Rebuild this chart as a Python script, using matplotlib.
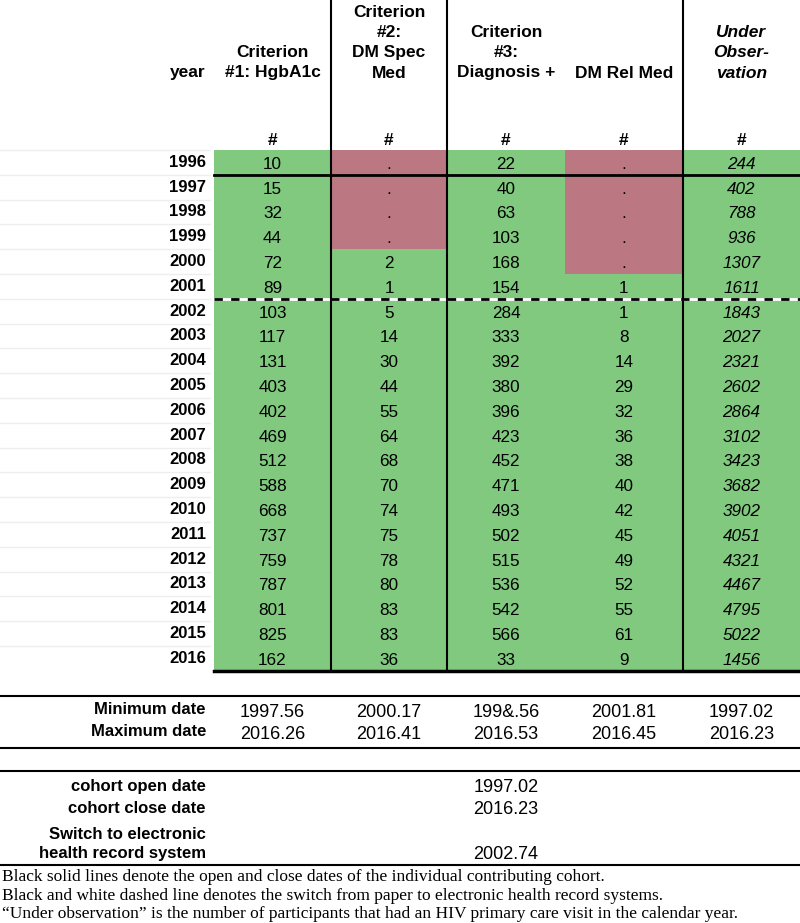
import matplotlib
matplotlib.use("Agg")
from matplotlib import pyplot as plt
from matplotlib.patches import Rectangle

years = list(range(1996, 2017))
crit1 = [10, 15, 32, 44, 72, 89, 103, 117, 131, 403, 402, 469, 512, 588, 668,
         737, 759, 787, 801, 825, 162]
crit2 = [None, None, None, None, 2, 1, 5, 14, 30, 44, 55, 64, 68, 70, 74,
         75, 78, 80, 83, 83, 36]
crit3 = [22, 40, 63, 103, 168, 154, 284, 333, 392, 380, 396, 423, 452, 471, 493,
         502, 515, 536, 542, 566, 33]
relmed = [None, None, None, None, None, 1, 1, 8, 14, 29, 32, 36, 38, 40, 42,
          45, 49, 52, 55, 61, 9]
observed = [244, 402, 788, 936, 1307, 1611, 1843, 2027, 2321, 2602, 2864, 3102,
            3423, 3682, 3902, 4051, 4321, 4467, 4795, 5022, 1456]

headers = ["Criterion\n#1: HgbA1c", "Criterion\n#2:\nDM Spec\nMed",
           "Criterion\n#3:\nDiagnosis +", "DM Rel Med", "Under\nObser-\nvation"]
min_dates = ["1997.56", "2000.17", "199&.56", "2001.81", "1997.02"]
max_dates = ["2016.26", "2016.41", "2016.53", "2016.45", "2016.23"]
cohort_labels = ["cohort open date", "cohort close date",
                 "Switch to electronic\nhealth record system"]
cohort_values = ["1997.02", "2016.23", "2002.74"]
notes = [
    "Black solid lines denote the open and close dates of the individual contributing cohort.",
    "Black and white dashed line denotes the switch from paper to electronic health record systems.",
    "\u201cUnder observation\u201d is the number of participants that had an HIV primary care visit in the calendar year.",
]

GREEN = "#80c97f"
PINK = "#bb7883"
SANS = ["Liberation Sans", "DejaVu Sans"]
SERIF = ["Liberation Serif", "DejaVu Serif"]

fig = plt.figure(figsize=(8, 9.23), dpi=100)
ax = fig.add_axes([0, 0, 1, 1])
ax.set_xlim(0, 800)
ax.set_ylim(923, 0)
ax.axis("off")

edges = [214, 331, 447, 565, 683, 800]
centers = [(edges[i] + edges[i + 1]) / 2 for i in range(5)]
top = 150
rh = 24.8
label_x = 206

# header
for i, h in enumerate(headers):
    ax.text(centers[i], 77.5, h, ha="center", va="baseline", fontsize=12.5,
            fontweight="bold", family=SANS, linespacing=1.42,
            style="italic" if i == 4 else "normal")
    ax.text(centers[i], 145, "#", ha="center", va="baseline", fontsize=12.5,
            fontweight="bold", family=SANS)
ax.text(label_x, 77.5, "year", ha="right", va="baseline", fontsize=12.5,
        fontweight="bold", family=SANS)

columns = [crit1, crit2, crit3, relmed, observed]
for r, yr in enumerate(years):
    y0 = top + r * rh
    ax.plot([0, 210], [y0, y0], color="#eeeeee", lw=1)
    ax.text(label_x, y0 + rh / 2, str(yr), ha="right", va="center",
            fontsize=12, fontweight="bold", family=SANS)
    for c, vals in enumerate(columns):
        v = vals[r]
        ax.add_patch(Rectangle((edges[c], y0), edges[c + 1] - edges[c], rh,
                               facecolor=GREEN if v is not None else PINK,
                               edgecolor="none"))
        ax.text(centers[c], y0 + rh / 2 + 2, "." if v is None else str(v),
                ha="center", va="center", fontsize=12.3, family=SANS,
                style="italic" if c == 4 else "normal")

bottom = top + len(years) * rh
# cohort lines
ax.plot([edges[0], 800], [top + rh, top + rh], color="black", lw=2)
ax.plot([edges[0], 800], [bottom, bottom], color="black", lw=2.5)
y_ehr = top + 6 * rh
ax.plot([edges[0], 800], [y_ehr, y_ehr], color="white", lw=2)
ax.plot([edges[0], 800], [y_ehr, y_ehr], color="black", lw=2,
        linestyle=(0, (3, 3)))
for x in [edges[1], edges[2], edges[4]]:
    ax.plot([x, x], [0, bottom], color="black", lw=1.5)

# date summary
for y in [696, 748, 771, 865]:
    ax.plot([0, 800], [y, y], color="black", lw=1.5)
for y, lab, vals in [(714, "Minimum date", min_dates), (736, "Maximum date", max_dates)]:
    ax.text(label_x, y, lab, ha="right", va="baseline", fontsize=12,
            fontweight="bold", family=SANS)
    for c, v in enumerate(vals):
        ax.text(centers[c], y + 3, v, ha="center", va="baseline", fontsize=13,
                family=SANS)

for y, lab, v in zip([791, 813, 858], cohort_labels, cohort_values):
    ax.text(label_x, y, lab, ha="right", va="baseline", fontsize=12,
            fontweight="bold", family=SANS, linespacing=1.3)
    ax.text(centers[2], y + 1, v, ha="center", va="baseline", fontsize=13,
            family=SANS)

for i, n in enumerate(notes):
    ax.text(2, 881 + i * 18.5, n, ha="left", va="baseline", fontsize=12.5,
            family=SERIF)

fig.savefig("out.png", dpi=100)
